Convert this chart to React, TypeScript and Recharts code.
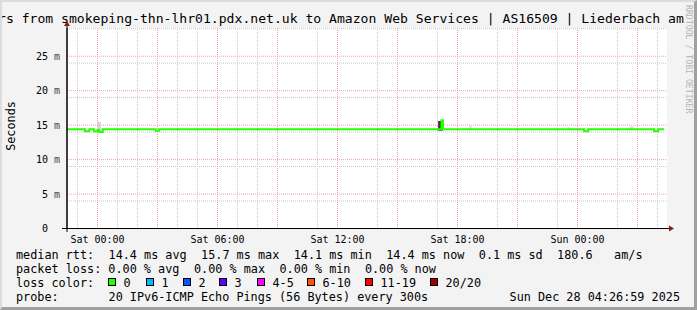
import { ComposedChart, Line, Area, XAxis, YAxis, CartesianGrid } from "recharts";

// hours relative to Sat 00:00
const TIME_TICKS = [0, 6, 12, 18, 24];
const TIME_LABELS = ["Sat 00:00", "Sat 06:00", "Sat 12:00", "Sat 18:00", "Sun 00:00"];
const MS_TICKS = [0, 5, 10, 15, 20, 25];

// median rtt, step changes (hour, ms)
const MEDIAN_H = [-1.525, -0.625, -0.41, -0.175, 0, 0.09, 0.26, 2.91, 3.08, 17.2, 17.28, 24.33, 24.53, 27.83, 28.03, 28.33];
const MEDIAN_MS = [14.4, 14.1, 14.4, 14.1, 14.3, 14.0, 14.4, 14.2, 14.4, 15.7, 14.4, 14.1, 14.4, 14.1, 14.4, 14.4];

// smoke blobs (spread of the 20 pings)
const SMOKE_FROM = [0.01, 17.03, 18.6, 23.5, 26.6];
const SMOKE_TO = [0.16, 17.27, 18.7, 23.6, 26.8];
const SMOKE_LO = [14.4, 14.2, 14.4, 14.4, 14.4];
const SMOKE_HI = [15.5, 15.6, 14.9, 14.7, 14.8];
const SMOKE_COLORS = ["#d2d2d2", "#3a3a3a", "#d6d6d6", "#dadada", "#dadada"];

const LOSS_LABELS = ["0", "1", "2", "3", "4-5", "6-10", "11-19", "20/20"];
const LOSS_COLORS = ["#26ff00", "#00b8ff", "#0059ff", "#5e00ff", "#ff00ff", "#ff5500", "#ff0000", "#a10000"];
const LOSS_BOX_X = [108, 146, 183, 219, 257, 307, 365, 430];

const LINE1 = "median rtt:  14.4 ms avg  15.7 ms max  14.1 ms min  14.4 ms now  0.1 ms sd  180.6   am/s";
const LINE2 = "packet loss: 0.00 % avg  0.00 % max  0.00 % min  0.00 % now";
const PROBE = "probe:       20 IPv6-ICMP Echo Pings (56 Bytes) every 300s";
const STAMP = "Sun Dec 28 04:26:59 2025";
const TITLE = "rs from smokeping-thn-lhr01.pdx.net.uk to Amazon Web Services | AS16509 | Liederbach am";

const MINOR_H: number[] = [];
const MAJOR_H: number[] = [];
for (let h = -1; h <= 28; h++) (h % 3 === 0 ? MAJOR_H : MINOR_H).push(h);
const MINOR_Y: number[] = [];
for (let v = 1; v <= 29; v++) if (v % 5 !== 0) MINOR_Y.push(v);
const MAJOR_Y = [5, 10, 15, 20, 25];

const FONT = "'DejaVu Sans Mono', monospace";
const CW = 7.12;

const median = MEDIAN_H.map((h, i) => ({ h, ms: MEDIAN_MS[i] }));
const smoke = SMOKE_FROM.map((f, i) => [
  { h: f, r: [SMOKE_LO[i], SMOKE_HI[i]] },
  { h: SMOKE_TO[i], r: [SMOKE_LO[i], SMOKE_HI[i]] },
]);

function XTick({ x, y, payload }: any) {
  const i = TIME_TICKS.indexOf(payload.value);
  return (
    <text x={x} y={y + 14} textAnchor="middle" fontFamily={FONT} fontSize={10} fill="#000">
      {TIME_LABELS[i]}
    </text>
  );
}

function YTick({ x, y, payload }: any) {
  return (
    <g fontFamily={FONT} fontSize={10}>
      <text x={x - 19} y={y + 3.6} textAnchor="end" fill="#000">{payload.value}</text>
      {payload.value !== 0 && <text x={x - 13} y={y + 3.6} fill="#444">m</text>}
    </g>
  );
}

// monospace line: runs split on 2+ spaces, placed by column
function Mono({ text, y, x0 = 16 }: { text: string; y: number; x0?: number }) {
  const runs: JSX.Element[] = [];
  const re = /\S+(?: \S+)*/g;
  let m;
  while ((m = re.exec(text))) {
    runs.push(
      <text key={m.index} x={x0 + m.index * CW} y={y}>{m[0]}</text>
    );
  }
  return <g>{runs}</g>;
}

export default function App() {
  return (
    <div style={{ position: "absolute", left: 0, top: 0, width: 697, height: 310, background: "#f3f3f3", overflow: "hidden" }}>
      <ComposedChart width={697} height={310} margin={{ top: 28, right: 30, bottom: 61.5, left: 0 }}>
        <CartesianGrid horizontalValues={MINOR_Y} verticalValues={MINOR_H} stroke="#c8c8c8" strokeDasharray="1 1" fill="#fff" />
        <CartesianGrid horizontalValues={MAJOR_Y} verticalValues={MAJOR_H} stroke="#f0a0a0" strokeDasharray="1 1" />
        <XAxis
          type="number"
          dataKey="h"
          domain={[-1.525, 28.475]}
          allowDataOverflow
          ticks={TIME_TICKS}
          tick={<XTick />}
          tickSize={0}
          tickMargin={0}
          height={20}
          axisLine={{ stroke: "#000" }}
        />
        <YAxis
          type="number"
          domain={[0, 29.1]}
          allowDataOverflow
          ticks={MS_TICKS}
          tick={<YTick />}
          tickSize={0}
          tickMargin={0}
          width={67}
          axisLine={{ stroke: "#000" }}
        />
        {smoke.map((d, i) => (
          <Area
            key={i}
            data={d}
            dataKey="r"
            type="linear"
            stroke="none"
            fill={SMOKE_COLORS[i]}
            fillOpacity={1}
            isAnimationActive={false}
          />
        ))}
        <Line
          data={median}
          dataKey="ms"
          type="stepAfter"
          stroke="#26ff00"
          strokeWidth={2}
          dot={false}
          isAnimationActive={false}
        />
      </ComposedChart>

      <svg width={697} height={310} style={{ position: "absolute", left: 0, top: 0, pointerEvents: "none" }}>
        <text x={-2} y={23} fontFamily={FONT} fontSize={13.1} fill="#000">{TITLE}</text>
        <text transform="translate(686,5) rotate(90)" fontFamily={FONT} fontSize={8.2} fill="#b4b4b4">
          RRDTOOL / TOBI OETIKER
        </text>
        <text transform="translate(15,126) rotate(-90)" textAnchor="middle" fontFamily={FONT} fontSize={11.8} fill="#000">
          Seconds
        </text>
        {/* axis extensions and arrows */}
        <line x1={67} y1={22} x2={67} y2={232} stroke="#000" strokeWidth={1} />
        <line x1={62} y1={228.5} x2={670} y2={228.5} stroke="#000" strokeWidth={1} />
        <polygon points="64,26 67,21 70,26" fill="#8c1c1c" />
        <polygon points="669,225.5 674,228.5 669,231.5" fill="#8c1c1c" />

        <g fontFamily={FONT} fontSize={11.8} fill="#000">
          <Mono text={LINE1} y={258.5} />
          <Mono text={LINE2} y={272.5} />
          <Mono text="loss color:" y={286.5} />
          {LOSS_LABELS.map((l, i) => (
            <g key={l}>
              <rect x={LOSS_BOX_X[i] + 0.5} y={278.5} width={7} height={7} fill={LOSS_COLORS[i]} stroke="#000" strokeWidth={1} />
              <text x={LOSS_BOX_X[i] + 15.5} y={286.5}>{l}</text>
            </g>
          ))}
          <Mono text={PROBE} y={300.5} />
          <text x={680} y={300.5} textAnchor="end">{STAMP}</text>
        </g>
      </svg>
      <div style={{ position: "absolute", inset: 0, boxSizing: "border-box", borderTop: "2px solid #dcdcdc", borderLeft: "2px solid #dcdcdc", borderRight: "3px solid #a0a0a0", borderBottom: "3px solid #a0a0a0", pointerEvents: "none" }} />
    </div>
  );
}
